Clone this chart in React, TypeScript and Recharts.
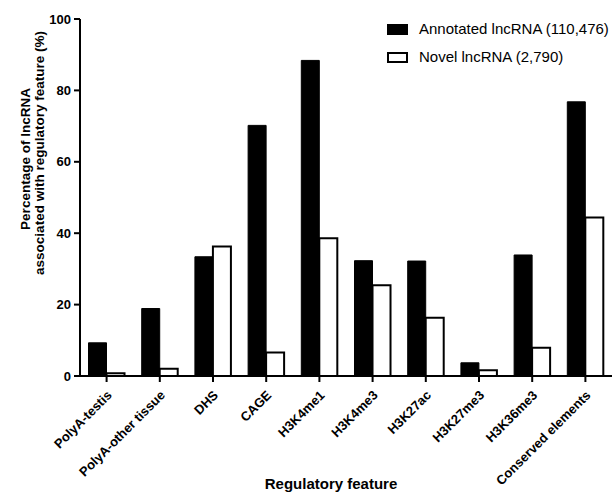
import React from 'react';
import { BarChart, Bar, XAxis, YAxis, Legend } from 'recharts';

const categories = [
  'PolyA-testis',
  'PolyA-other tissue',
  'DHS',
  'CAGE',
  'H3K4me1',
  'H3K4me3',
  'H3K27ac',
  'H3K27me3',
  'H3K36me3',
  'Conserved elements',
];
const annotated = [9.3, 18.9, 33.4, 70.2, 88.4, 32.3, 32.2, 3.7, 33.9, 76.8];
const novel = [0.8, 2.0, 36.3, 6.6, 38.6, 25.4, 16.3, 1.6, 7.9, 44.4];
const yTicks = [0, 20, 40, 60, 80, 100];
const annotatedName = 'Annotated lncRNA (110,476)';
const novelName = 'Novel lncRNA (2,790)';

const data = categories.map((c, i) => ({ name: c, annotated: annotated[i], novel: novel[i] }));

const FONT = '"Liberation Sans", Arial, Helvetica, sans-serif';

const XTick = (props: any) => {
  const { x, y, payload } = props;
  const ax = x + 6;
  const ay = y + 12;
  return (
    <text
      x={ax}
      y={ay}
      transform={`rotate(-45, ${ax}, ${ay})`}
      textAnchor="end"
      fontFamily={FONT}
      fontWeight="bold"
      fontSize={13}
      fill="#000"
    >
      {payload.value}
    </text>
  );
};

const YTick = (props: any) => {
  const { x, y, payload } = props;
  return (
    <text x={x - 1} y={y + 4.5} textAnchor="end" fontFamily={FONT} fontWeight="bold" fontSize={13} fill="#000">
      {payload.value}
    </text>
  );
};

const YLabel = () => (
  <g>
    <text
      transform="translate(30, 159) rotate(-90)"
      textAnchor="middle"
      fontFamily={FONT}
      fontWeight="bold"
      fontSize={13.5}
      fill="#000"
    >
      Percentage of lncRNA
    </text>
    <text
      transform="translate(44, 153) rotate(-90)"
      textAnchor="middle"
      fontFamily={FONT}
      fontWeight="bold"
      fontSize={13.5}
      fill="#000"
    >
      associated with regulatory feature (%)
    </text>
  </g>
);

const XLabel = () => (
  <text x={331} y={489} textAnchor="middle" fontFamily={FONT} fontWeight="bold" fontSize={15} fill="#000">
    Regulatory feature
  </text>
);

const LegendContent = () => (
  <div style={{ fontFamily: FONT, fontSize: 15, color: '#000', lineHeight: '28px' }}>
    <div style={{ display: 'flex', alignItems: 'center', height: 28 }}>
      <span style={{ display: 'inline-block', width: 21, height: 11, background: '#000', marginRight: 11 }} />
      <span>{annotatedName}</span>
    </div>
    <div style={{ display: 'flex', alignItems: 'center', height: 28 }}>
      <span
        style={{
          display: 'inline-block',
          width: 17,
          height: 7,
          background: '#fff',
          border: '2px solid #000',
          marginRight: 11,
        }}
      />
      <span>{novelName}</span>
    </div>
  </div>
);

export default function App() {
  return (
    <div style={{ position: 'absolute', left: 0, top: 0, width: 616, height: 492, background: '#fff' }}>
      <BarChart
        width={616}
        height={492}
        data={data}
        margin={{ top: 19, right: 4, bottom: 0, left: 30 }}
        barCategoryGap="16%"
        barGap={0}
      >
        <XAxis
          dataKey="name"
          interval={0}
          height={116}
          tick={<XTick />}
          axisLine={{ stroke: '#000', strokeWidth: 2 }}
          tickLine={{ stroke: '#000', strokeWidth: 2 }}
          tickSize={6}
          label={<XLabel />}
        />
        <YAxis
          width={50}
          domain={[0, 100]}
          ticks={yTicks}
          interval={0}
          tick={<YTick />}
          axisLine={{ stroke: '#000', strokeWidth: 2 }}
          tickLine={{ stroke: '#000', strokeWidth: 2 }}
          tickSize={6}
          label={<YLabel />}
        />
        <Legend
          verticalAlign="middle"
          align="center"
          layout="horizontal"
          content={<LegendContent />}
          wrapperStyle={{ position: 'absolute', top: 15, left: 387, width: 230, height: 56 }}
        />
        <Bar dataKey="annotated" name={annotatedName} fill="#000" stroke="#000" strokeWidth={1} isAnimationActive={false} />
        <Bar dataKey="novel" name={novelName} fill="#fff" stroke="#000" strokeWidth={2} isAnimationActive={false} />
      </BarChart>
    </div>
  );
}
